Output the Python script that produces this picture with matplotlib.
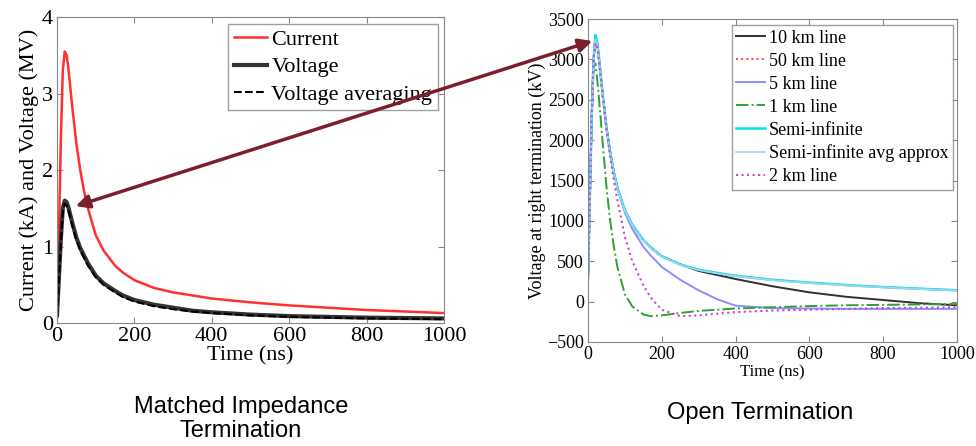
import matplotlib
matplotlib.use("Agg")
import matplotlib.pyplot as plt
from matplotlib.patches import FancyArrowPatch

# time axis shared by both panels (ns)
t = [0, 5, 10, 15, 20, 25, 30, 40, 50, 60, 70, 80, 100, 120, 150, 170, 200,
     250, 300, 350, 400, 500, 600, 700, 800, 900, 1000]

# matched impedance termination (kA / MV)
current = [0.1, 1.2, 2.4, 3.3, 3.55, 3.5, 3.3, 2.8, 2.35, 2.0, 1.72, 1.5, 1.15, 0.95,
           0.75, 0.66, 0.56, 0.46, 0.4, 0.36, 0.32, 0.27, 0.23, 0.2, 0.17, 0.15, 0.13]
voltage = [0.1, 0.6, 1.1, 1.5, 1.6, 1.58, 1.5, 1.3, 1.12, 0.98, 0.88, 0.78, 0.62, 0.52,
           0.42, 0.36, 0.3, 0.24, 0.2, 0.16, 0.14, 0.11, 0.09, 0.08, 0.07, 0.065, 0.06]
voltage_avg = [0.08, 0.55, 1.05, 1.45, 1.56, 1.54, 1.46, 1.26, 1.08, 0.95, 0.85, 0.75, 0.6, 0.5,
               0.4, 0.34, 0.28, 0.22, 0.18, 0.15, 0.13, 0.1, 0.08, 0.07, 0.06, 0.055, 0.05]

# open termination (kV)
semi_inf = [300, 1300, 2300, 3000, 3300, 3200, 3000, 2550, 2150, 1850, 1600, 1400, 1130, 950,
            760, 670, 560, 460, 395, 355, 320, 270, 235, 205, 180, 160, 140]
semi_avg = [280, 1250, 2250, 2950, 3250, 3180, 2980, 2540, 2140, 1840, 1590, 1390, 1125, 945,
            755, 665, 555, 455, 390, 350, 315, 265, 230, 200, 177, 157, 137]
km50 = semi_inf
km10 = [300, 1300, 2300, 3000, 3250, 3200, 3000, 2550, 2150, 1850, 1600, 1400, 1130, 950,
        760, 670, 560, 460, 380, 330, 280, 190, 115, 60, 20, -20, -45]
km5 = [300, 1300, 2300, 3000, 3250, 3200, 3000, 2550, 2150, 1850, 1600, 1400, 1100, 900,
       680, 570, 430, 270, 140, 30, -50, -80, -85, -90, -90, -90, -90]
km2 = [300, 1300, 2300, 3000, 3200, 3150, 2950, 2550, 2150, 1800, 1500, 1250, 800, 500,
       200, 50, -100, -180, -170, -150, -130, -110, -100, -90, -80, -75, -70]
km1 = [300, 1300, 2300, 2950, 2950, 2750, 2500, 1950, 1420, 1000, 680, 420, 90, -60,
       -160, -180, -170, -140, -115, -100, -85, -70, -55, -45, -40, -35, -30]

plt.rcParams['font.family'] = ['Liberation Serif', 'DejaVu Serif']

fig = plt.figure(figsize=(9.76, 4.46), dpi=100)

def style(ax, fs):
    ax.tick_params(direction='in', top=True, right=True, labelsize=fs, length=4,
                   color='#888888', pad=3)
    for s in ax.spines.values():
        s.set_color('#888888')

# left panel
ax1 = fig.add_axes([0.0584, 0.2758, 0.3965, 0.686])
ax1.plot(t, current, color='#ff3030', lw=1.8, label='Current')
ax1.plot(t, voltage, color='#333333', lw=3, label='Voltage')
ax1.plot(t, voltage_avg, color='black', lw=1.5, ls='--', label='Voltage averaging')
ax1.set_xlim(0, 1000)
ax1.set_ylim(0, 4)
ax1.set_xticks(range(0, 1001, 200))
ax1.set_yticks(range(0, 5))
style(ax1, 16)
ax1.set_xlabel('Time (ns)', fontsize=16, labelpad=0)
ax1.set_ylabel('Current (kA) and Voltage (MV)', fontsize=16, labelpad=2)
ax1.legend(loc='upper right', bbox_to_anchor=(0.984, 0.977), fontsize=16,
           fancybox=False, edgecolor='#888888', handlelength=1.5,
           handletextpad=0.2, borderpad=0.25, labelspacing=0.3, borderaxespad=0)

# right panel
ax2 = fig.add_axes([0.6025, 0.2332, 0.378, 0.724])
ax2.plot(t, km10, color='#303030', lw=1.4, label='10 km line')
ax2.plot(t, km50, color='#ff4040', lw=1.4, ls=':', label='50 km line')
ax2.plot(t, km5, color='#8c8cff', lw=1.4, label='5 km line')
ax2.plot(t, km1, color='#30a030', lw=1.4, ls='-.', label='1 km line')
ax2.plot(t, semi_inf, color='#00e5e5', lw=1.8, label='Semi-infinite')
ax2.plot(t, semi_avg, color='#a8d0f0', lw=1.2, label='Semi-infinite avg approx')
ax2.plot(t, km2, color='#d040d0', lw=1.5, ls=':', label='2 km line')
ax2.set_xlim(0, 1000)
ax2.set_ylim(-500, 3500)
ax2.set_xticks(range(0, 1001, 200))
ax2.set_yticks(range(-500, 3501, 500))
style(ax2, 13)
ax2.set_xlabel('Time (ns)', fontsize=12, labelpad=1)
ax2.set_ylabel('Voltage at right termination (kV)', fontsize=13, labelpad=1)
ax2.legend(loc='upper right', bbox_to_anchor=(0.989, 0.981), fontsize=13,
           fancybox=False, edgecolor='#888888', handlelength=1.6,
           handletextpad=0.2, borderpad=0.25, labelspacing=0.33, borderaxespad=0)

# double arrow linking the two peaks
arr = FancyArrowPatch((0.0748, 0.536), (0.6096, 0.910), transform=fig.transFigure,
                      arrowstyle='<|-|>', mutation_scale=20, color='#7a1f2b', lw=2.5,
                      zorder=10)
fig.add_artist(arr)

fig.text(0.247, 0.06, 'Matched Impedance\nTermination', ha='center', va='center',
         fontsize=17, family=['Liberation Sans', 'DejaVu Sans'], linespacing=1.1)
fig.text(0.779, 0.075, 'Open Termination', ha='center', va='center',
         fontsize=17, family=['Liberation Sans', 'DejaVu Sans'])

fig.savefig('out.png', dpi=100)
